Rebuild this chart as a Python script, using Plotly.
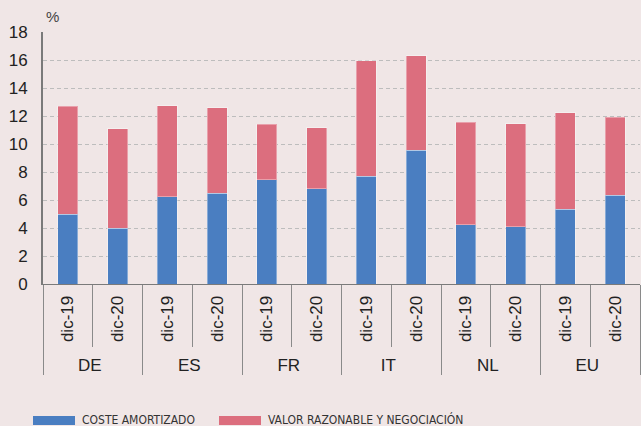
import plotly.graph_objects as go

countries = ["DE", "DE", "ES", "ES", "FR", "FR", "IT", "IT", "NL", "NL", "EU", "EU"]
periods = ["dic-19", "dic-20"] * 6
coste_amortizado = [5.0, 4.0, 6.25, 6.5, 7.45, 6.8, 7.7, 9.55, 4.25, 4.1, 5.35, 6.35]
total = [12.7, 11.1, 12.75, 12.6, 11.4, 11.15, 15.95, 16.3, 11.55, 11.45, 12.25, 11.9]
valor_razonable = [round(t - c, 2) for t, c in zip(total, coste_amortizado)]
y_ticks = [0, 2, 4, 6, 8, 10, 12, 14, 16, 18]

BLUE = "#4A7EC1"
RED = "#DC6E7E"
BG = "#F0E6E6"
FONT = "Liberation Sans, Arial, sans-serif"

fig = go.Figure()
fig.add_trace(go.Bar(x=[countries, periods], y=coste_amortizado, name="COSTE AMORTIZADO",
                     marker=dict(color=BLUE, line=dict(color="rgba(255,255,255,0.35)", width=1))))
fig.add_trace(go.Bar(x=[countries, periods], y=valor_razonable, name="VALOR RAZONABLE Y NEGOCIACIÓN",
                     marker=dict(color=RED, line=dict(color="rgba(255,255,255,0.35)", width=1))))

fig.update_layout(
    barmode="stack",
    bargap=0.6,
    width=641, height=426,
    paper_bgcolor=BG, plot_bgcolor=BG,
    margin=dict(l=43, r=1, t=32, b=142),
    showlegend=False,
    font=dict(family=FONT, size=15, color="#222222"),
)
fig.update_yaxes(range=[0, 18], tickvals=y_ticks, showgrid=True, gridcolor="#BDBDBD",
                 griddash="4px,3px", gridwidth=1, zeroline=False, showline=True,
                 linecolor="#7A7A7A", linewidth=2, ticks="", ticklabelstandoff=10,
                 tickfont=dict(size=17, color="#222222"), automargin=False)
fig.update_xaxes(type="multicategory", tickangle=-90, showline=True, linecolor="#7A7A7A",
                 linewidth=1, ticks="outside", ticklen=62, tickcolor="#8A8A8A",
                 showdividers=True, dividercolor="#8A8A8A", dividerwidth=1,
                 ticklabelstandoff=4,
                 tickfont=dict(size=17, color="#222222"), automargin=False)

fig.add_annotation(text="%", xref="paper", yref="paper", x=0.0, y=1.0, xanchor="left",
                   yanchor="bottom", xshift=1, yshift=5, showarrow=False,
                   font=dict(size=15, color="#444444"))

# legend
legend_items = [("COSTE AMORTIZADO", BLUE, 33), ("VALOR RAZONABLE Y NEGOCIACIÓN", RED, 219)]
for label, col, px in legend_items:
    fig.add_shape(type="rect", xref="paper", yref="paper",
                  x0=(px - 43) / 597, x1=(px + 42 - 43) / 597,
                  y0=-(425 - 284) / 252, y1=-(416 - 284) / 252,
                  fillcolor=col, line=dict(width=0))
    fig.add_annotation(text=label, xref="paper", yref="paper", x=(px + 47 - 43) / 597,
                       y=-(420 - 284) / 252, xanchor="left", yanchor="middle", showarrow=False,
                       font=dict(family="DejaVu Sans Condensed, Liberation Sans Narrow, Arial", size=12,
                                 color="#333333"))

fig.write_html("out.html", config={"displayModeBar": False},
               post_script="document.body.style.margin='0';")
